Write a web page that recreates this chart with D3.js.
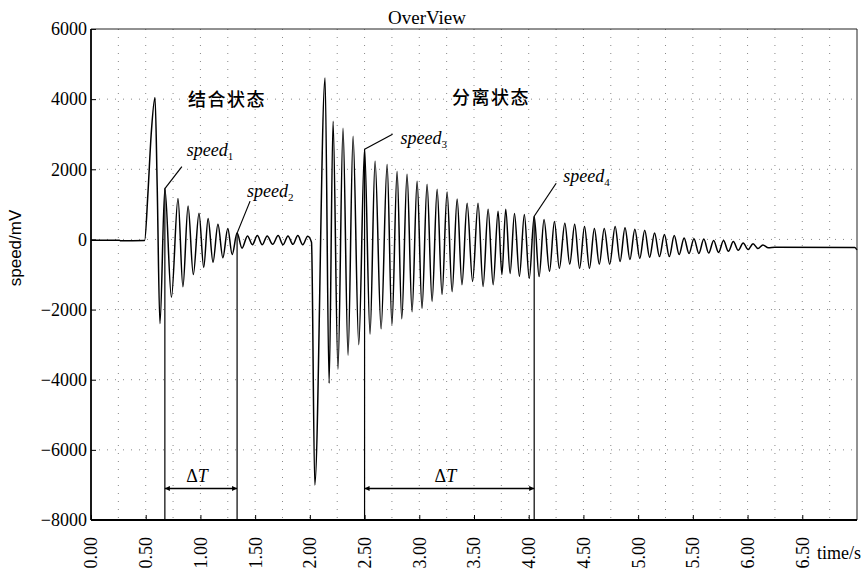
<!DOCTYPE html>
<meta charset="utf-8">
<style>
body { margin: 0; background: #fff; }
text { font-family: 'Liberation Serif', 'Times New Roman', serif; fill: #000; }
.grid line { stroke: #888; stroke-width: 1; stroke-dasharray: 1,7; }
.trace { fill: none; stroke: #000; stroke-width: 1.5; stroke-linejoin: round; }
.axis path { display: none; }
.axis line { stroke: #000; }
.mark { stroke: #000; stroke-width: 1.2; fill: none; }
</style>
<svg width="868" height="578"></svg>
<script src="https://d3js.org/d3.v7.min.js"></script>
<script>
// axis ticks
var xTicks = [0, 0.5, 1, 1.5, 2, 2.5, 3, 3.5, 4, 4.5, 5, 5.5, 6, 6.5];
var yTicks = [-8000, -6000, -4000, -2000, 0, 2000, 4000, 6000];
var xGrid = [0.25, 0.5, 0.75, 1, 1.25, 1.5, 1.75, 2, 2.25, 2.5, 2.75, 3, 3.25, 3.5, 3.75, 4, 4.25, 4.5, 4.75, 5, 5.25, 5.5, 5.75, 6, 6.25, 6.5, 6.75];
var yGrid = [-6000, -4000, -2000, 0, 2000, 4000];

// trace, [time s, speed mV]
var idle = [[0, -20], [0.26, -20], [0.27, -40], [0.49, -30]];
var impact1 = [[0.52, 1300], [0.55, 3000], [0.585, 4050], [0.605, 1500], [0.63, -2400]];
var ring1 = [[0.675, 1450], [0.735, -1650], [0.795, 1170], [0.84, -1350], [0.887, 950], [0.935, -1000],
  [0.987, 750], [1.03, -800], [1.07, 600], [1.115, -650], [1.16, 430], [1.205, -520], [1.25, 310],
  [1.29, -430], [1.335, 180], [1.38, -250]];
var ripple = [[1.43, 100], [1.475, -150], [1.52, 110], [1.565, -150], [1.61, 100], [1.66, -140],
  [1.71, 110], [1.755, -150], [1.80, 100], [1.845, -140], [1.89, 110], [1.935, -150], [1.98, 90], [2.015, -80]];
var impact2 = [[2.045, -7000]];
var ring2 = [[2.139, 4600], [2.176, -4100], [2.212, 3370], [2.257, -3700], [2.303, 3170], [2.349, -3300],
  [2.395, 2940], [2.447, -3000], [2.50, 2570], [2.55, -2700], [2.596, 2230], [2.651, -2550], [2.706, 2140],
  [2.75, -2430], [2.797, 1940], [2.84, -2260], [2.888, 1860], [2.934, -2060], [2.98, 1660], [3.025, -1970],
  [3.071, 1570], [3.117, -1770], [3.163, 1430], [3.208, -1570], [3.254, 1350], [3.30, -1490], [3.346, 1150],
  [3.39, -1290], [3.437, 1030], [3.487, -1200], [3.537, 1030], [3.583, -1340], [3.629, 860], [3.675, -1290],
  [3.72, 800], [3.755, -1000], [3.79, 860], [3.83, -970], [3.87, 740], [3.915, -1050], [3.96, 710],
  [4.005, -1110], [4.05, 660], [4.095, -1060], [4.14, 570], [4.19, -910], [4.235, 510], [4.28, -830],
  [4.33, 460], [4.375, -710], [4.42, 430], [4.465, -830], [4.51, 370], [4.555, -830], [4.60, 310],
  [4.645, -710], [4.69, 310], [4.74, -710], [4.79, 370], [4.835, -630], [4.88, 330], [4.925, -570],
  [4.97, 290], [5.015, -540], [5.06, 260], [5.105, -510], [5.15, 180], [5.195, -490], [5.24, 140],
  [5.285, -490], [5.33, 110], [5.375, -430], [5.42, 40], [5.465, -400], [5.51, 20], [5.555, -400],
  [5.60, 10], [5.645, -390], [5.69, -30], [5.735, -370], [5.78, -30], [5.825, -340], [5.87, -60],
  [5.915, -310], [5.96, -100], [6.005, -290], [6.05, -120], [6.095, -260], [6.14, -160], [6.19, -240]];
var tail = [[6.25, -220], [6.98, -230], [7.0, -300]];

// speed markers and the two intervals
var markT = [0.675, 1.335, 2.50, 4.05];
var markV = [1450, 180, 2570, 660];
var markSub = ["1", "2", "3", "4"];
var deltaT = [[0.675, 1.335], [2.50, 4.05]];
var deltaV = -7100;
var states = ["结合状态", "分离状态"];
var stateT = [0.887, 3.30];
var stateV = [3800, 3850];

var serif = "'Liberation Serif', 'Times New Roman', serif";

var svg = d3.select("svg");
var x = d3.scaleLinear().domain([0, 7]).range([91, 857]);
var y = d3.scaleLinear().domain([-8000, 6000]).range([520, 29]);

// grid
var grid = svg.append("g").attr("class", "grid");
grid.selectAll(".gx").data(xGrid).enter().append("line")
  .attr("x1", d => x(d)).attr("x2", d => x(d)).attr("y1", y(6000)).attr("y2", y(-8000));
grid.selectAll(".gy").data(yGrid).enter().append("line")
  .attr("x1", x(0)).attr("x2", x(7)).attr("y1", d => y(d)).attr("y2", d => y(d));

// trace
var trace = [].concat(idle, impact1, ring1, ripple, impact2, ring2, tail);
var line = d3.line().x(d => x(d[0])).y(d => y(d[1])).curve(d3.curveMonotoneX);
svg.append("path").attr("class", "trace").attr("d", line(trace));

// axes
var xAxis = svg.append("g").attr("class", "axis")
  .attr("transform", "translate(0," + y(-8000) + ")")
  .call(d3.axisBottom(x).tickValues(xTicks).tickSize(-5).tickFormat(d3.format(".2f")));
xAxis.attr("font-family", serif).attr("font-size", 18);
xAxis.selectAll("text")
  .attr("transform", "rotate(-90)")
  .attr("text-anchor", "end")
  .attr("x", -17).attr("y", 0).attr("dy", "0.33em")
  .style("font-family", serif).style("font-size", "18px");

var yAxis = svg.append("g").attr("class", "axis")
  .attr("transform", "translate(" + x(0) + ",0)")
  .call(d3.axisLeft(y).tickValues(yTicks).tickSize(-5).tickPadding(4).tickFormat(d3.format("d")));
yAxis.attr("font-family", serif).attr("font-size", 18);
yAxis.selectAll("text").style("font-family", serif).style("font-size", "18px");

// frame
svg.append("line").attr("x1", x(0)).attr("x2", x(7)).attr("y1", y(6000)).attr("y2", y(6000))
  .attr("stroke", "#222").attr("stroke-width", 1);
svg.append("line").attr("x1", x(7)).attr("x2", x(7)).attr("y1", y(6000)).attr("y2", y(-8000))
  .attr("stroke", "#222").attr("stroke-width", 1);
svg.append("line").attr("x1", x(0)).attr("x2", x(0)).attr("y1", y(6000)).attr("y2", y(-8000))
  .attr("stroke", "#000").attr("stroke-width", 1.8);
svg.append("line").attr("x1", x(0)).attr("x2", x(7)).attr("y1", y(-8000)).attr("y2", y(-8000))
  .attr("stroke", "#000").attr("stroke-width", 1.8);

// titles
svg.append("text").attr("x", 427).attr("y", 24).attr("text-anchor", "middle")
  .style("font-size", "19px").text("OverView");
svg.append("text").attr("transform", "translate(21,248) rotate(-90)").attr("text-anchor", "middle")
  .style("font-family", "'Liberation Sans', Arial, sans-serif").style("font-size", "17px")
  .text("speed/mV");
svg.append("text").attr("x", 817).attr("y", 559).style("font-size", "18px").text("time/s");

// state labels
svg.selectAll(".state").data(states).enter().append("text")
  .attr("x", (d, i) => x(stateT[i])).attr("y", (d, i) => y(stateV[i]))
  .style("font-family", "'Noto Sans CJK SC', sans-serif").style("font-size", "18px")
  .style("letter-spacing", "1.5px").style("font-weight", "500")
  .text(d => d);

// speed markers: vertical drop line, leader and label
var leader = [[17, -22], [13, -32], [28, -15], [22, -33]];
var labelAt = [[22, -33], [10, -36], [36, -5], [29, -34]];
markT.forEach(function(t, i) {
  var px = x(t), py = y(markV[i]);
  svg.append("line").attr("class", "mark")
    .attr("x1", px).attr("x2", px).attr("y1", py).attr("y2", y(-8000));
  svg.append("line").attr("class", "mark").attr("stroke-width", 1)
    .attr("x1", px + leader[i][0]).attr("y1", py + leader[i][1]).attr("x2", px).attr("y2", py);
  var lab = svg.append("text").attr("x", px + labelAt[i][0]).attr("y", py + labelAt[i][1])
    .style("font-size", "18px");
  lab.append("tspan").style("font-style", "italic").text("speed");
  lab.append("tspan").attr("dy", 4).style("font-size", "11px").text(markSub[i]);
});

// delta T arrows
var defs = svg.append("defs");
defs.append("marker").attr("id", "ah").attr("viewBox", "0 0 10 10")
  .attr("refX", 10).attr("refY", 5).attr("markerWidth", 7).attr("markerHeight", 5)
  .attr("markerUnits", "userSpaceOnUse").attr("orient", "auto-start-reverse")
  .append("path").attr("d", "M0,0L10,5L0,10Z").attr("fill", "#000");
deltaT.forEach(function(d) {
  svg.append("line").attr("stroke", "#000").attr("stroke-width", 1.4)
    .attr("x1", x(d[0])).attr("x2", x(d[1])).attr("y1", y(deltaV)).attr("y2", y(deltaV))
    .attr("marker-start", "url(#ah)").attr("marker-end", "url(#ah)");
  var tx = svg.append("text").attr("x", (x(d[0]) + x(d[1])) / 2 - 4).attr("y", y(deltaV) - 6)
    .attr("text-anchor", "middle").style("font-size", "18px");
  tx.append("tspan").text("Δ");
  tx.append("tspan").style("font-style", "italic").text("T");
});
</script>
